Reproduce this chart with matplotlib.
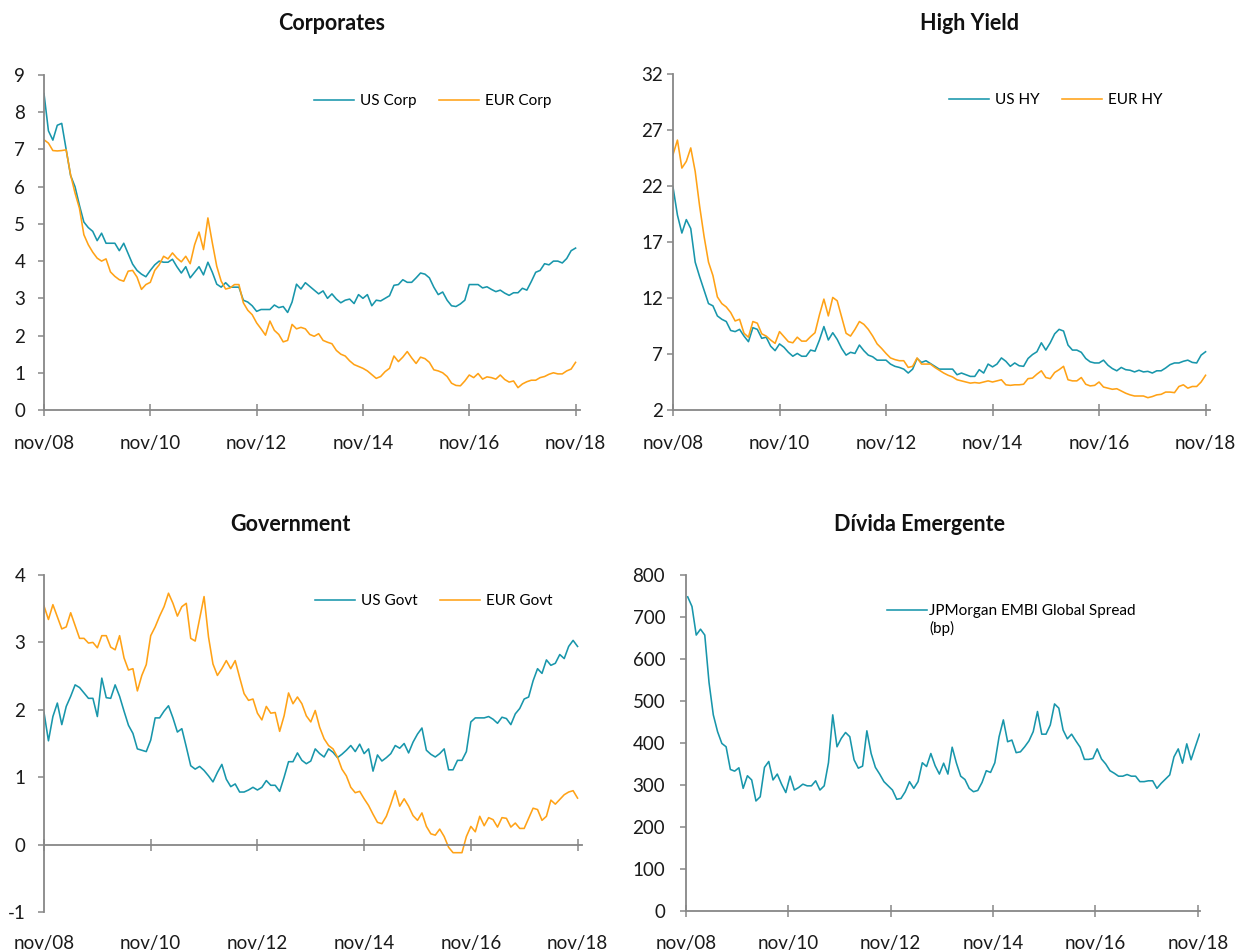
import numpy as np
import matplotlib
matplotlib.use("Agg")
import matplotlib.pyplot as plt

plt.rcParams['font.family'] = ['Lato', 'DejaVu Sans']
plt.rcParams['axes.unicode_minus'] = False

# monthly data, nov/08 .. nov/18
us_corp = [8.5, 7.5, 7.25, 7.65, 7.7, 7.0, 6.3, 6.0, 5.5, 5.05,
           4.9, 4.8, 4.55, 4.75, 4.48, 4.48, 4.48, 4.28, 4.48, 4.2,
           3.92, 3.75, 3.65, 3.58, 3.75, 3.9, 4.0, 3.97, 3.97, 4.05,
           3.85, 3.68, 3.85, 3.55, 3.7, 3.85, 3.63, 3.97, 3.7, 3.38,
           3.3, 3.42, 3.3, 3.3, 3.3, 2.95, 2.9, 2.8, 2.65, 2.7,
           2.7, 2.7, 2.82, 2.75, 2.78, 2.62, 2.9, 3.38, 3.25, 3.42,
           3.32, 3.22, 3.12, 3.2, 3.0, 3.12, 2.98, 2.88, 2.95, 2.98,
           2.86, 3.1, 3.0, 3.1, 2.8, 2.95, 2.93, 3.0, 3.07, 3.35,
           3.37, 3.5, 3.43, 3.43, 3.55, 3.68, 3.65, 3.55, 3.3, 3.1,
           3.17, 2.95, 2.8, 2.78, 2.85, 2.95, 3.37, 3.37, 3.37, 3.28,
           3.31, 3.24, 3.18, 3.22, 3.14, 3.08, 3.15, 3.15, 3.27, 3.22,
           3.45, 3.7, 3.75, 3.93, 3.9, 4.0, 4.0, 3.95, 4.07, 4.28, 4.35]
eur_corp = [7.26, 7.17, 6.97, 6.96, 6.97, 6.99, 6.32, 5.83, 5.42, 4.71,
            4.44, 4.24, 4.08, 4.0, 4.06, 3.71, 3.59, 3.5, 3.46, 3.73,
            3.75, 3.57, 3.24, 3.37, 3.43, 3.75, 3.9, 4.13, 4.06, 4.22,
            4.08, 3.98, 4.13, 3.93, 4.44, 4.78, 4.31, 5.16, 4.49, 3.86,
            3.46, 3.25, 3.28, 3.37, 3.37, 2.88, 2.68, 2.56, 2.34, 2.18,
            2.01, 2.39, 2.14, 2.03, 1.83, 1.87, 2.3, 2.18, 2.22, 2.18,
            2.03, 1.98, 2.05, 1.87, 1.82, 1.78, 1.6, 1.5, 1.45, 1.32,
            1.22, 1.17, 1.12, 1.05, 0.95, 0.85, 0.9, 1.03, 1.12, 1.45,
            1.3, 1.42, 1.57, 1.4, 1.25, 1.42, 1.38, 1.28, 1.08, 1.05,
            1.0, 0.9, 0.72, 0.66, 0.65, 0.78, 0.94, 0.87, 0.98, 0.83,
            0.89, 0.87, 0.83, 0.94, 0.82, 0.75, 0.78, 0.6, 0.7, 0.76,
            0.8, 0.8, 0.87, 0.9, 0.96, 1.0, 0.97, 0.97, 1.05, 1.1, 1.28]

us_hy = [21.9, 19.4, 17.8, 19.0, 18.2, 15.2, 13.9, 12.7, 11.5, 11.3,
         10.4, 10.1, 9.9, 9.1, 9.0, 9.2, 8.6, 8.1, 9.35, 9.2,
         8.4, 8.5, 7.7, 7.3, 7.9, 7.6, 7.15, 6.8, 7.05, 6.8,
         6.8, 7.35, 7.25, 8.25, 9.45, 8.25, 8.9, 8.3, 7.5, 6.9,
         7.15, 7.05, 7.8, 7.3, 6.9, 6.75, 6.45, 6.45, 6.45, 6.1,
         5.9, 5.8, 5.65, 5.3, 5.65, 6.6, 6.25, 6.4, 6.15, 5.9,
         5.65, 5.65, 5.65, 5.65, 5.15, 5.3, 5.15, 5.0, 5.0, 5.6,
         5.3, 6.1, 5.85, 6.1, 6.65, 6.35, 5.9, 6.2, 5.95, 5.9,
         6.6, 6.95, 7.2, 8.0, 7.35, 8.0, 8.8, 9.2, 9.05, 7.8,
         7.35, 7.35, 7.15, 6.6, 6.3, 6.2, 6.2, 6.45, 6.0, 5.7,
         5.5, 5.8, 5.6, 5.55, 5.4, 5.55, 5.4, 5.45, 5.3, 5.5,
         5.5, 5.75, 6.05, 6.2, 6.2, 6.35, 6.45, 6.25, 6.2, 6.9, 7.2]
eur_hy = [24.8, 26.1, 23.6, 24.2, 25.4, 23.3, 20.2, 17.5, 15.2, 14.0,
          12.1, 11.5, 11.2, 10.7, 9.95, 10.1, 8.85, 8.5, 9.9, 9.75,
          8.8, 8.6, 8.25, 7.95, 9.0, 8.55, 8.1, 8.0, 8.5, 8.15,
          8.15, 8.55, 8.9, 10.5, 11.9, 10.4, 12.05, 11.75, 10.3, 8.85,
          8.6, 9.2, 9.9, 9.65, 9.2, 8.6, 7.9, 7.5, 7.05, 6.65,
          6.5, 6.4, 6.4, 5.8, 5.9, 6.65, 6.1, 6.1, 6.1, 5.8,
          5.55, 5.3, 5.1, 4.95, 4.7, 4.6, 4.5, 4.4, 4.45, 4.4,
          4.5, 4.6, 4.5, 4.6, 4.7, 4.25, 4.2, 4.25, 4.25, 4.3,
          4.8, 4.85, 5.2, 5.5, 4.9, 4.8, 5.35, 5.6, 5.9, 4.7,
          4.6, 4.6, 4.9, 4.3, 4.15, 4.2, 4.5, 4.05, 3.95, 3.85,
          3.9, 3.7, 3.5, 3.35, 3.25, 3.25, 3.25, 3.1, 3.2, 3.35,
          3.4, 3.6, 3.6, 3.55, 4.1, 4.25, 3.95, 4.1, 4.1, 4.5, 5.1]

us_govt = [1.96, 1.54, 1.9, 2.1, 1.78, 2.05, 2.2, 2.37, 2.33, 2.25,
           2.17, 2.17, 1.9, 2.47, 2.18, 2.17, 2.37, 2.2, 1.98, 1.77,
           1.65, 1.42, 1.4, 1.38, 1.55, 1.88, 1.88, 1.98, 2.06, 1.88,
           1.67, 1.72, 1.45, 1.17, 1.12, 1.16, 1.1, 1.02, 0.93, 1.07,
           1.19, 0.97, 0.86, 0.9, 0.78, 0.78, 0.81, 0.85, 0.81, 0.85,
           0.95, 0.88, 0.88, 0.79, 1.0, 1.23, 1.23, 1.36, 1.25, 1.2,
           1.24, 1.42, 1.35, 1.3, 1.42, 1.37, 1.29, 1.34, 1.4, 1.47,
           1.38, 1.49, 1.35, 1.42, 1.09, 1.33, 1.24, 1.29, 1.35, 1.47,
           1.43, 1.5, 1.36, 1.52, 1.64, 1.73, 1.4, 1.34, 1.3, 1.35,
           1.42, 1.11, 1.11, 1.25, 1.25, 1.38, 1.82, 1.88, 1.88, 1.88,
           1.9, 1.86, 1.8, 1.89, 1.87, 1.78, 1.94, 2.02, 2.16, 2.19,
           2.43, 2.61, 2.54, 2.74, 2.66, 2.69, 2.82, 2.76, 2.94, 3.03, 2.94]
eur_govt = [3.54, 3.34, 3.56, 3.38, 3.2, 3.23, 3.44, 3.25, 3.06, 3.06,
            2.99, 3.0, 2.92, 3.1, 3.1, 2.93, 2.89, 3.1, 2.77, 2.59,
            2.61, 2.28, 2.51, 2.67, 3.1, 3.23, 3.39, 3.53, 3.73, 3.58,
            3.39, 3.53, 3.58, 3.06, 3.02, 3.35, 3.68, 3.08, 2.68, 2.51,
            2.61, 2.73, 2.61, 2.73, 2.48, 2.24, 2.14, 2.16, 1.95, 1.85,
            2.05, 1.95, 1.96, 1.68, 1.91, 2.25, 2.09, 2.19, 2.09, 1.91,
            1.82, 1.99, 1.74, 1.57, 1.47, 1.42, 1.3, 1.12, 1.02, 0.85,
            0.77, 0.79, 0.68, 0.58, 0.45, 0.33, 0.31, 0.42, 0.6, 0.8,
            0.57, 0.68, 0.57, 0.43, 0.36, 0.47, 0.27, 0.16, 0.14, 0.23,
            0.12, -0.04, -0.12, -0.12, -0.12, 0.12, 0.27, 0.19, 0.42, 0.28,
            0.4, 0.37, 0.26, 0.4, 0.39, 0.26, 0.32, 0.24, 0.24, 0.39,
            0.54, 0.52, 0.36, 0.42, 0.66, 0.6, 0.67, 0.74, 0.78, 0.8, 0.69]

embi = [748, 725, 657, 671, 657, 544, 467, 427, 399, 391,
        337, 333, 341, 292, 322, 312, 262, 272, 342, 356,
        312, 326, 302, 282, 321, 288, 294, 302, 298, 298,
        310, 288, 298, 353, 467, 391, 411, 425, 415, 360,
        340, 345, 429, 375, 342, 326, 308, 298, 288, 266,
        268, 284, 308, 292, 308, 353, 344, 375, 346, 326,
        352, 326, 390, 352, 321, 313, 292, 284, 287, 306,
        334, 330, 353, 415, 455, 403, 407, 377, 379, 391,
        405, 427, 475, 421, 421, 443, 493, 483, 431, 410,
        421, 405, 390, 361, 361, 363, 386, 362, 350, 334,
        328, 321, 321, 325, 321, 321, 308, 308, 310, 310,
        292, 304, 314, 324, 367, 386, 352, 398, 360, 391, 421]

tick_labels = ["nov/08", "nov/10", "nov/12", "nov/14", "nov/16", "nov/18"]
months = np.arange(len(us_corp))

TEAL = "#1896ab"
ORANGE = "#ffa216"
AXC = "#878787"
LW = 1.15
W, H = 1241, 951

fig = plt.figure(figsize=(W / 100, H / 100), dpi=100)


def add_ax(l, r, t, b):
    return fig.add_axes([l / W, 1 - b / H, (r - l) / W, (b - t) / H])


def style(ax, ylim, yticks, ypad, xright, xpad=14):
    ax.set_xlim(0, xright)
    ax.set_ylim(*ylim)
    ax.set_yticks(yticks)
    ax.set_xticks(np.arange(0, 121, 24))
    ax.set_xticklabels(tick_labels)
    for s in ["top", "right"]:
        ax.spines[s].set_visible(False)
    for s in ["left", "bottom"]:
        ax.spines[s].set_color(AXC)
        ax.spines[s].set_linewidth(1.3)
    ax.tick_params(axis="y", direction="out", length=4, width=1.1, color=AXC,
                   pad=ypad, labelsize=13.5, labelcolor="#1a1a1a")
    ax.tick_params(axis="x", direction="inout", length=8, width=1.1, color=AXC,
                   pad=xpad, labelsize=13.5, labelcolor="#1a1a1a")


def legend(ax, x, y):
    ax.legend(loc="center left", bbox_to_anchor=(x / W, 1 - y / H),
              bbox_transform=fig.transFigure, ncol=2, frameon=False,
              borderpad=0, borderaxespad=0, handlelength=2.6,
              handletextpad=0.4, columnspacing=1.5, fontsize=11)


# Corporates
ax1 = add_ax(44, 580, 75, 410)
ax1.plot(months, us_corp, color=TEAL, lw=LW, label="US Corp")
ax1.plot(months, eur_corp, color=ORANGE, lw=LW, label="EUR Corp")
style(ax1, (0, 9), range(0, 10), 9.5, 121)
legend(ax1, 314, 101)

# High Yield
ax2 = add_ax(673, 1210, 74, 410)
ax2.plot(months, us_hy, color=TEAL, lw=LW, label="US HY")
ax2.plot(months, eur_hy, color=ORANGE, lw=LW, label="EUR HY")
style(ax2, (2, 32), range(2, 33, 5), 3, 121)
legend(ax2, 949, 100)

# Government
ax3 = add_ax(44, 582, 575, 912)
ax3.plot(months, us_govt, color=TEAL, lw=LW, label="US Govt")
ax3.plot(months, eur_govt, color=ORANGE, lw=LW, label="EUR Govt")
style(ax3, (-1, 4), range(-1, 5), 9.5, 121, xpad=61)
ax3.spines["bottom"].set_position(("data", 0))
legend(ax3, 315, 601)

# Divida Emergente
ax4 = add_ax(686, 1200, 575, 911)
ax4.plot(months + 0.4, embi, color=TEAL, lw=LW,
         label="JPMorgan EMBI Global Spread")
style(ax4, (0, 800), range(0, 801, 100), 11, 120.5, xpad=13)
ax4.legend(loc="center left", bbox_to_anchor=(887 / W, 1 - 611 / H),
           bbox_transform=fig.transFigure, frameon=False, borderpad=0,
           borderaxespad=0, handlelength=2.6, handletextpad=0.15,
           fontsize=11)
fig.text(929 / W, 1 - 628 / H, "(bp)", ha="left", va="center", fontsize=11)

tkw = dict(fontsize=15.5, fontweight="bold", color="#111111")
fig.text(332 / W, 1 - 30 / H, "Corporates", ha="center", va="baseline", **tkw)
fig.text(970 / W, 1 - 30 / H, "High Yield", ha="center", va="baseline", **tkw)
fig.text(351 / W, 1 - 531 / H, "Government", ha="right", va="baseline", **tkw)
fig.text(919 / W, 1 - 531 / H, "Dívida Emergente", ha="center", va="baseline", **tkw)

fig.savefig("out.png", dpi=100)
